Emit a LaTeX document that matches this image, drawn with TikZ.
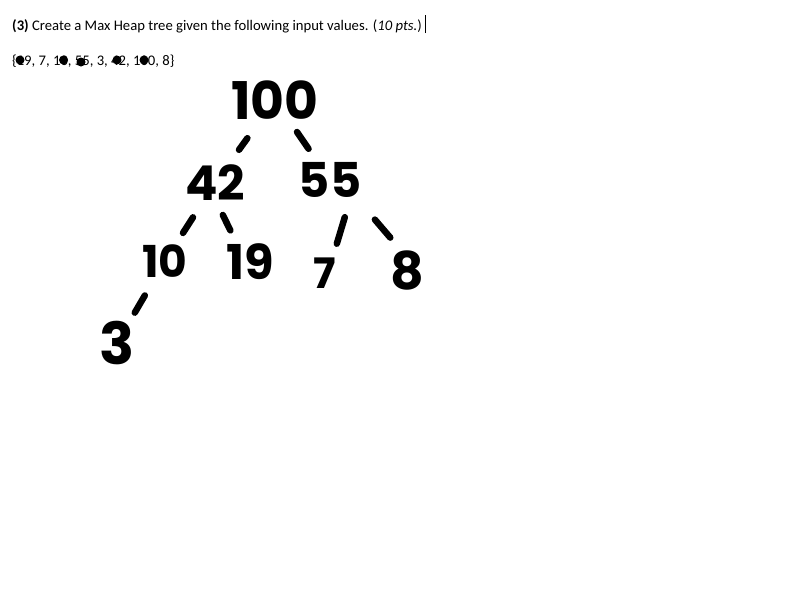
\documentclass[tikz,border=0pt]{standalone}
\usepackage{fontspec}
\setmainfont{Carlito}
\newfontfamily\handfont{Poppins}
\usetikzlibrary{calc, positioning}
\definecolor{inkBlack}{RGB}{0, 0, 0}

\tikzset{
	num/.style={font=\handfont\bfseries\fontsize{#1}{#1}\selectfont, inner sep=0pt, text=inkBlack},
	num/.default=50,
	edge/.style={inkBlack, line width=6.5pt, line cap=round},
	blot/.style={fill=inkBlack}
}

\begin{document}
\begin{tikzpicture}[x=1pt, y=-1pt]
	\useasboundingbox (0,0) rectangle (800,600);
	% question text
	\node[anchor=base west, inner sep=0pt, font=\fontsize{14.67}{16}\selectfont] (head) at (12,30)
	{\textbf{(3)} Create a Max Heap tree given the following input values. (\textit{10 pts.})};
	\draw[line width=0.8pt] ([xshift=3pt]head.base east) ++(0,3) -- ++(0,-18);
	\node[anchor=base west, inner sep=0pt, font=\fontsize{14.67}{16}\selectfont] (vals) at (12,65)
	{\{19, 7, 10, 55, 3, 42, 100, 8\}};
	% ink blots on the list
	\foreach \bx/\by in {20/60, 63.5/60, 81/62, 117/60, 144/60}
		\fill[blot] (\bx,\by) circle (4.5);
	% heap nodes
	\node[num=52] (n100) at (275,100) {100};
	\node[num=48] (n42) at (215,183) {42};
	\node[num=48] (n55) at (330,180) {55};
	\node[num=44] (n10) at (165,261) {10};
	\node[num=48] (n19) at (250,262) {19};
	\node[num=42] (n7) at (325,273) {7};
	\node[num=52] (n8) at (407,270) {8};
	\node[num=58] (n3) at (117,343) {3};
	% edges
	\draw[edge] ($(n100)!.46!(n42)$) -- ($(n100)!.6!(n42)$);
	\draw[edge] ($(n100)!.4!(n55)$) -- ($(n100)!.61!(n55)$);
	\draw[edge] ($(n42)!.44!(n10)$) -- ($(n42)!.64!(n10)$);
	\draw[edge] ($([xshift=-8pt]n42.center)!.405!([xshift=-4pt]n19.center)$) -- ($([xshift=-8pt]n42.center)!.6!([xshift=-4pt]n19.center)$);
	\draw[edge] ($([xshift=26pt]n55.center)!.4!([xshift=3pt]n7.center)$) -- ($([xshift=26pt]n55.center)!.685!([xshift=3pt]n7.center)$);
	\draw[edge] ($([xshift=11pt]n55.center)!.44!([xshift=11pt]n8.center)$) -- ($([xshift=11pt]n55.center)!.64!([xshift=11pt]n8.center)$);
	\draw[edge] ($(n10)!.42!(n3)$) -- ($(n10)!.63!(n3)$);
\end{tikzpicture}
\end{document}
